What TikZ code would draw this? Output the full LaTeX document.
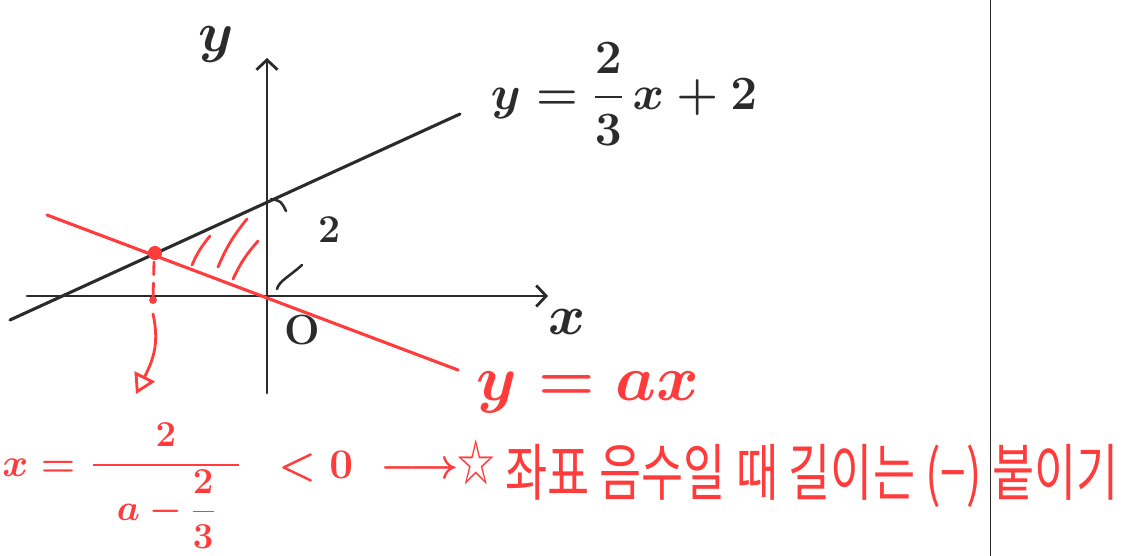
\documentclass[tikz,border=0pt]{standalone}
\usepackage{fix-cm}
\usepackage{amsmath,amssymb}
\usepackage{fontspec}
\newfontfamily\krfont[FakeStretch=0.74]{Noto Sans CJK KR}
\usetikzlibrary{arrows.meta,positioning}
\definecolor{ink}{HTML}{2B2B2B}
\definecolor{pen}{HTML}{FF3B3B}

\begin{document}
\begin{tikzpicture}[x=0.025cm,y=-0.025cm,line cap=round,line join=round,
  >={Straight Barb[length=7pt,width=15pt]},
  axis/.style={draw=ink,line width=2pt,->},
  graph/.style={line width=2.2pt},
  hatch/.style={draw=pen,line width=2pt},
  inktext/.style={text=ink,inner sep=0pt},
  pentext/.style={text=pen,inner sep=0pt}]
\useasboundingbox (0,0) rectangle (1122,556);
% points
\coordinate (xleft) at (27,296);
\coordinate (xright) at (548,296);
\coordinate (ybottom) at (267,393);
\coordinate (ytop) at (267,58);
\coordinate (origin) at (267,296);
\coordinate (yint) at (267,202);
\coordinate (linestart) at (10,320);
\coordinate (lineend) at (460,114);
\coordinate (raystart) at (47,215);
\coordinate (rayend) at (458,370);
\coordinate (meet) at (155,253);
\coordinate (dashstart) at (154,262);
\coordinate (foot) at (153,300);
\coordinate (dropstart) at (153,314);
\coordinate (droptip) at (136,394);
\coordinate (dividetop) at (990,0);
\coordinate (dividebot) at (990,556);
% axes and lines
\draw[ink,line width=0.6pt] (dividetop) -- (dividebot);
\draw[axis] (xleft) -- (xright);
\draw[axis] (ybottom) -- (ytop);
\draw[ink,graph] (linestart) -- (lineend);
\draw[pen,graph] (raystart) -- (rayend);
% hatching
\draw[hatch] (192,265) to[bend left=8] (210,236);
\draw[hatch] (218,267) to[bend left=8] (247,219);
\draw[hatch] (233,279) to[bend left=8] (258,241);
% marks for the length 2
\draw[ink,line width=1.8pt] (271,199) .. controls (281,201) .. (286,211);
\draw[ink,line width=1.8pt] (277,289) .. controls (279,281) and (290,276) .. (302,265);
% intersection and drop
\fill[pen] (meet) circle[radius=5pt];
\draw[pen,line width=2pt,dash pattern=on 9pt off 6pt] (dashstart) -- (foot);
\fill[pen] (foot) circle[radius=2.8pt];
\draw[pen,line width=2pt,-{Triangle[open,length=14pt,width=16pt,line width=2pt]}]
  (dropstart) .. controls (160,345) and (152,362) .. (droptip);
% labels
\node[inktext,font=\fontsize{40}{44}\selectfont\boldmath] (ylabel) at (216,44) {$y$};
\node[inktext,font=\fontsize{40}{44}\selectfont\boldmath] (xlabel) at (567,322) {$x$};
\node[inktext,font=\fontsize{30}{34}\selectfont\bfseries] (olabel) at (302,330) {O};
\node[inktext,font=\fontsize{28}{32}\selectfont\bfseries] (twolabel) at (330,230) {2};
\node[inktext,font=\fontsize{34}{40}\selectfont\boldmath] (linelabel) at (624,94) {$y=\dfrac{2}{3}\,x+2$};
\node[pentext,font=\fontsize{46}{52}\selectfont\boldmath] (raylabel) at (588,392) {$y=ax$};
% bottom line
\node[pentext,font=\fontsize{28}{34}\selectfont\boldmath,anchor=base west] (xeq) at (2,476) {$x=$};
\node[pentext,font=\fontsize{26}{32}\selectfont\boldmath,anchor=base] (ratio) at (166,474) {$\dfrac{2}{\;\;a-\dfrac{2}{3}\;\;}$};
\node[pentext,font=\fontsize{30}{36}\selectfont\boldmath,anchor=base west] (lesszero) at (278,478) {$<0$};
\node[pentext,font=\fontsize{30}{36}\selectfont\boldmath] (implies) at (420,470) {$\longrightarrow$};
\node[pentext,font=\krfont\fontsize{36}{40}\selectfont] (star) at (476,462) {☆};
\node[pentext,font=\krfont\fontsize{44}{50}\selectfont,anchor=west] (note) at (505,476) {좌표 음수일 때 길이는 (−) 붙이기};
\end{tikzpicture}
\end{document}
